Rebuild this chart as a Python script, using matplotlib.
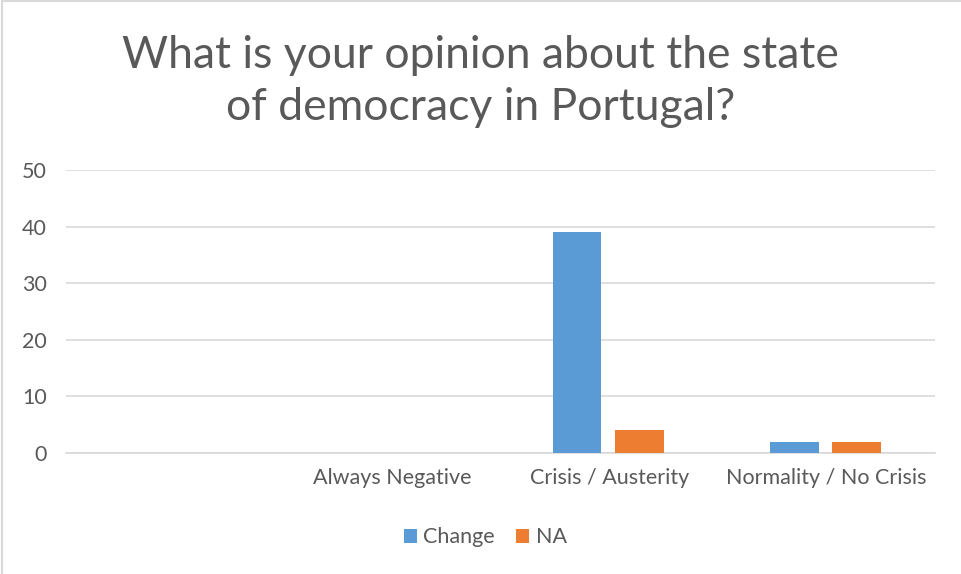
import numpy as np
import matplotlib.pyplot as plt
from matplotlib.lines import Line2D

categories = ['', 'Always Negative', 'Crisis / Austerity', 'Normality / No Crisis']
change = [0, 0, 39, 2]
na = [0, 0, 4, 2]
yticks = [0, 10, 20, 30, 40, 50]

BLUE = '#5B9BD5'
ORANGE = '#ED7D31'
TEXT = '#595959'
GRID = '#D9D9D9'

plt.rcParams['font.family'] = ['Lato', 'DejaVu Sans']

fig = plt.figure(figsize=(9.61, 5.74), dpi=100)
ax = fig.add_axes([0.0687, 0.2108, 0.9043, 0.493])

x = np.arange(len(categories))
w = 0.225
ax.bar(x - 0.148, change, width=w, color=BLUE, label='Change', zorder=3)
ax.bar(x + 0.138, na, width=w, color=ORANGE, label='NA', zorder=3)

ax.set_xlim(-0.5, len(categories) - 0.5)
ax.set_ylim(0, 50)
ax.set_yticks(yticks)
ax.set_xticks(x)
ax.set_xticklabels(categories)
ax.tick_params(axis='both', length=0, colors=TEXT, labelsize=15.5)
ax.tick_params(axis='y', pad=14)
ax.tick_params(axis='x', pad=11)
ax.grid(axis='y', color=GRID, linewidth=1.2, zorder=0)
for side in ['top', 'right', 'left']:
    ax.spines[side].set_visible(False)
ax.spines['bottom'].set_color(GRID)
ax.spines['bottom'].set_linewidth(1.2)

fig.text(0.5, 0.858, 'What is your opinion about the state\nof democracy in Portugal?',
         ha='center', va='center', fontsize=32, color=TEXT, linespacing=1.32)

leg = fig.legend(loc='center', bbox_to_anchor=(0.505, 0.064), ncol=2, frameon=False,
                 fontsize=15.5, handlelength=0.6, handleheight=0.6, handletextpad=0.3,
                 columnspacing=1.0)
for t in leg.get_texts():
    t.set_color(TEXT)

# partial chart-area border seen at top and left edges
fig.add_artist(Line2D([0.002, 0.002], [0, 0.998], transform=fig.transFigure, color=GRID, lw=1.5))
fig.add_artist(Line2D([0.002, 1], [0.998, 0.998], transform=fig.transFigure, color=GRID, lw=1.5))

fig.savefig('out.png', dpi=100)
